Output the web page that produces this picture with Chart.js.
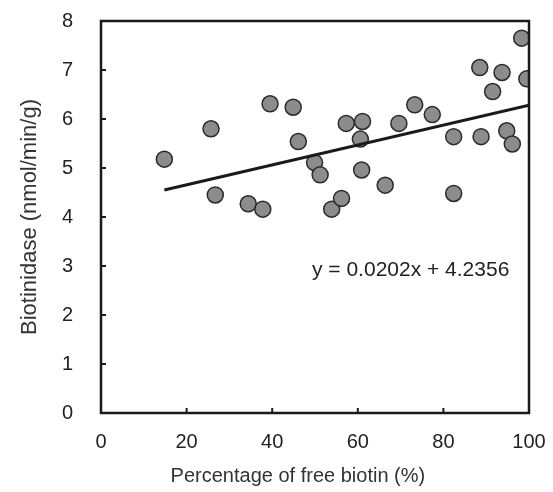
<!DOCTYPE html>
<html>
<head>
<meta charset="utf-8">
<script src="https://cdn.jsdelivr.net/npm/chart.js@4.4.1/dist/chart.umd.min.js"></script>
<style>
html,body{margin:0;padding:0;background:#fff;}
#wrap{width:553px;height:492px;position:relative;}
</style>
</head>
<body>
<div id="wrap"><canvas id="c" width="553" height="492"></canvas></div>
<script>
const xValues = [14.8, 25.7, 26.7, 34.4, 37.8, 39.5, 44.9, 46.1, 49.9, 51.2,
                 53.9, 56.2, 57.3, 60.6, 60.9, 61.1, 66.4, 69.6, 73.3, 77.4,
                 82.4, 82.4, 88.5, 88.8, 91.5, 93.7, 94.8, 96.1, 98.3, 99.5];
const yValues = [5.18, 5.80, 4.45, 4.27, 4.16, 6.31, 6.24, 5.54, 5.11, 4.86,
                 4.16, 4.38, 5.91, 5.59, 4.96, 5.95, 4.65, 5.91, 6.29, 6.09,
                 5.64, 4.48, 7.05, 5.64, 6.56, 6.95, 5.76, 5.49, 7.65, 6.82];
const trendX = [14.8, 100];
const trendY = [4.55, 6.28];
const xTicks = [0, 20, 40, 60, 80, 100];
const yTicks = [0, 1, 2, 3, 4, 5, 6, 7, 8];
const equationText = 'y = 0.0202x + 4.2356';
const xTitle = 'Percentage of free biotin (%)';
const yTitle = 'Biotinidase (nmol/min/g)';

const FONT = "'Liberation Sans', Arial, sans-serif";

const points = xValues.map((x, i) => ({x: x, y: yValues[i]}));
const trend = trendX.map((x, i) => ({x: x, y: trendY[i]}));

const framePlugin = {
  id: 'frame',
  afterDatasetsDraw(chart) {
    const {ctx, chartArea: a, scales} = chart;
    ctx.save();
    ctx.strokeStyle = '#1a1a1a';
    ctx.lineWidth = 2.5;
    ctx.strokeRect(a.left, a.top, a.right - a.left, a.bottom - a.top);
    ctx.lineWidth = 2;
    ctx.beginPath();
    yTicks.forEach(v => {
      const y = scales.y.getPixelForValue(v);
      ctx.moveTo(a.left, y); ctx.lineTo(a.left + 5, y);
    });
    xTicks.forEach(v => {
      const x = scales.x.getPixelForValue(v);
      ctx.moveTo(x, a.bottom); ctx.lineTo(x, a.bottom - 5);
    });
    ctx.stroke();
    ctx.fillStyle = '#222';
    ctx.font = '21px ' + FONT;
    ctx.textAlign = 'left';
    ctx.textBaseline = 'middle';
    ctx.fillText(equationText, scales.x.getPixelForValue(49.3), scales.y.getPixelForValue(2.92));
    // x axis title (offset left of axis centre, as in the source figure)
    ctx.fillStyle = '#333';
    ctx.font = '20px ' + FONT;
    ctx.textAlign = 'center';
    ctx.fillText(xTitle, scales.x.getPixelForValue(46), 476);
    ctx.restore();
  }
};

new Chart(document.getElementById('c'), {
  type: 'scatter',
  data: {
    datasets: [
      {
        label: 'trend',
        type: 'line',
        data: trend,
        borderColor: '#1a1a1a',
        borderWidth: 3,
        pointRadius: 0,
        showLine: true,
        fill: false,
        order: 0
      },
      {
        label: 'samples',
        data: points,
        pointRadius: 8,
        pointHoverRadius: 8,
        backgroundColor: '#8c8c8c',
        borderColor: '#2a2a2a',
        borderWidth: 1.5,
        order: 1
      }
    ]
  },
  options: {
    responsive: false,
    animation: false,
    events: [],
    layout: {padding: {left: 0, right: 24, top: 21, bottom: 0}},
    plugins: {legend: {display: false}, tooltip: {enabled: false}},
    scales: {
      x: {
        type: 'linear', min: 0, max: 100,
        afterBuildTicks(s) { s.ticks = xTicks.map(v => ({value: v})); },
        afterFit(s) { s.height = 79; s.paddingLeft = 0; s.paddingRight = 0; },
        grid: {display: false, drawTicks: false},
        border: {display: false},
        ticks: {color: '#222', font: {family: FONT, size: 20}, padding: 17, maxRotation: 0},
        title: {display: false}
      },
      y: {
        type: 'linear', min: 0, max: 8,
        afterBuildTicks(s) { s.ticks = yTicks.map(v => ({value: v})); },
        afterFit(s) { s.width = 101; s.paddingTop = 0; s.paddingBottom = 0; },
        grid: {display: false, drawTicks: false},
        border: {display: false},
        ticks: {color: '#222', font: {family: FONT, size: 20}, padding: 28},
        title: {display: true, text: yTitle, color: '#333', font: {family: FONT, size: 22}, padding: {top: 17, bottom: 0}}
      }
    }
  },
  plugins: [framePlugin]
});
</script>
</body>
</html>
